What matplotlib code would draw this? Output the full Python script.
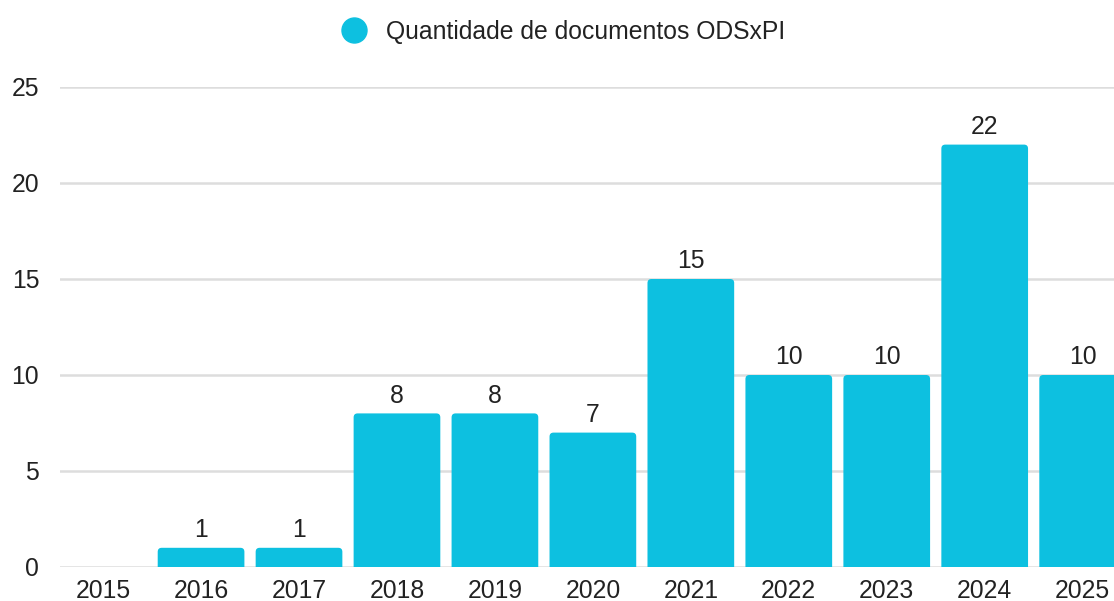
import matplotlib
matplotlib.use("Agg")
import matplotlib.pyplot as plt
from matplotlib.patches import FancyBboxPatch
from matplotlib.lines import Line2D

years = ["2015", "2016", "2017", "2018", "2019", "2020", "2021", "2022", "2023", "2024", "2025"]
counts = [0, 1, 1, 8, 8, 7, 15, 10, 10, 22, 10]
series_name = "Quantidade de documentos ODSxPI"
yticks = [0, 5, 10, 15, 20, 25]

BAR_COLOR = "#0DC0E0"
TEXT_COLOR = "#222222"
GRID_COLOR = "#dddddd"
FS = 17.8

plt.rcParams['font.family'] = ['Liberation Sans', 'DejaVu Sans']

W, H = 1114, 601
fig = plt.figure(figsize=(W / 100, H / 100), dpi=100)
left_px, right_px = 60, 1114
bottom_px, top_px = 567, 87
ax = fig.add_axes([left_px / W, 1 - bottom_px / H, (right_px - left_px) / W, (bottom_px - top_px) / H])

x = list(range(len(years)))
width = 0.885
bars = ax.bar(x, counts, width=width, color=BAR_COLOR, zorder=3)

ax.set_ylim(0, 25)
ax.set_xlim(-0.44, 10.32)

# replace bars with rounded-top versions
px_per_x = (right_px - left_px) / (10.32 + 0.44)
px_per_y = (bottom_px - top_px) / 25
r_px = 4
rx = r_px / px_per_x
ry = r_px / px_per_y
for b in bars:
    h = b.get_height()
    b.set_visible(False)
    if h <= 0:
        continue
    p = FancyBboxPatch((b.get_x(), -ry), b.get_width(), h + ry,
                       boxstyle=f"round,pad=0,rounding_size={rx}",
                       mutation_aspect=ry / rx,
                       facecolor=BAR_COLOR, edgecolor="none", zorder=3)
    ax.add_patch(p)

for xi, v in zip(x, counts):
    if v > 0:
        ax.annotate(str(v), (xi, v), xytext=(0, 4), textcoords="offset points",
                    ha="center", va="bottom", fontsize=FS, color=TEXT_COLOR, zorder=4)

ax.set_yticks(yticks)
ax.set_xticks(x)
ax.set_xticklabels(years)
ax.tick_params(axis="both", length=0, labelsize=FS, labelcolor=TEXT_COLOR)
ax.tick_params(axis="y", pad=15)
ax.tick_params(axis="x", pad=8.5)

ax.grid(axis="y", color=GRID_COLOR, linewidth=1.8, zorder=0)
ax.set_axisbelow(True)
for s in ax.spines.values():
    s.set_visible(False)

handle = Line2D([], [], marker="o", linestyle="none", markersize=18,
                markerfacecolor=BAR_COLOR, markeredgecolor=BAR_COLOR)
fig.legend([handle], [series_name], loc="center", bbox_to_anchor=(0.5, 1 - 32 / H),
           frameon=False, fontsize=FS, handletextpad=0.3, labelcolor=TEXT_COLOR)

fig.savefig("out.png", dpi=100)
